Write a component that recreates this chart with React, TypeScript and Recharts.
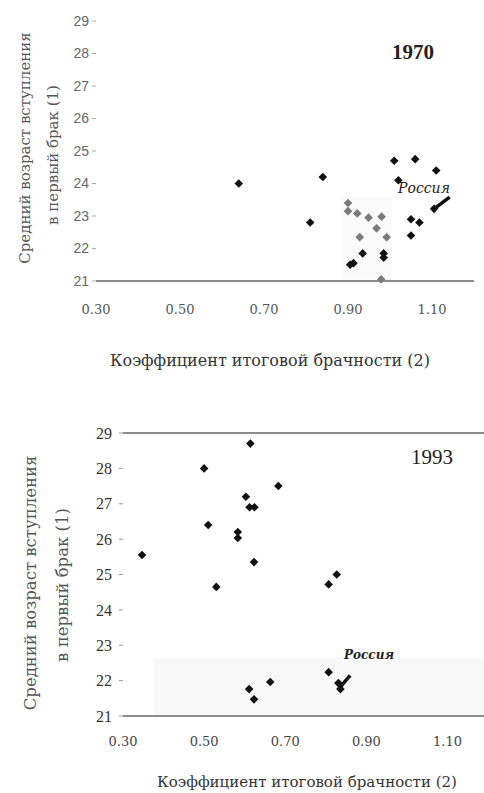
import React from "react";
import {
  ScatterChart,
  Scatter,
  XAxis,
  YAxis,
  ReferenceLine,
  ReferenceArea,
} from "recharts";

type Pt = { x: number; y: number };

const xTicks = [0.3, 0.5, 0.7, 0.9, 1.1];
const yTicks = [21, 22, 23, 24, 25, 26, 27, 28, 29];

// 1970, dark markers
const dark1970: Pt[] = [
  { x: 0.64, y: 24.0 },
  { x: 0.84, y: 24.2 },
  { x: 0.81, y: 22.8 },
  { x: 1.01, y: 24.7 },
  { x: 1.06, y: 24.75 },
  { x: 1.11, y: 24.4 },
  { x: 1.02, y: 24.1 },
  { x: 1.05, y: 22.9 },
  { x: 1.07, y: 22.8 },
  { x: 1.05, y: 22.4 },
  { x: 0.935, y: 21.85 },
  { x: 0.913, y: 21.55 },
  { x: 0.905, y: 21.5 },
  { x: 0.985, y: 21.85 },
  { x: 0.985, y: 21.72 },
  { x: 1.105, y: 23.22 },
];

// 1970, grey markers
const grey1970: Pt[] = [
  { x: 0.9, y: 23.4 },
  { x: 0.9, y: 23.15 },
  { x: 0.922, y: 23.08 },
  { x: 0.949, y: 22.95 },
  { x: 0.98, y: 22.98 },
  { x: 0.968, y: 22.62 },
  { x: 0.928, y: 22.35 },
  { x: 0.992, y: 22.35 },
  { x: 0.979, y: 21.05 },
];

// 1993
const pts1993: Pt[] = [
  { x: 0.347, y: 25.55 },
  { x: 0.5, y: 28.0 },
  { x: 0.614, y: 28.7 },
  { x: 0.683, y: 27.5 },
  { x: 0.603, y: 27.2 },
  { x: 0.612, y: 26.9 },
  { x: 0.624, y: 26.9 },
  { x: 0.51, y: 26.4 },
  { x: 0.583, y: 26.2 },
  { x: 0.583, y: 26.03 },
  { x: 0.623, y: 25.35 },
  { x: 0.53, y: 24.65 },
  { x: 0.807, y: 24.72 },
  { x: 0.827, y: 25.0 },
  { x: 0.807, y: 22.24 },
  { x: 0.663, y: 21.96 },
  { x: 0.611, y: 21.76 },
  { x: 0.623, y: 21.47 },
  { x: 0.831, y: 21.93 },
  { x: 0.836, y: 21.76 },
];

const Diamond = (props: any) => {
  const { cx, cy, fill } = props;
  const r = 4.3;
  return (
    <path
      d={`M${cx},${cy - r}L${cx + r},${cy}L${cx},${cy + r}L${cx - r},${cy}Z`}
      fill={fill}
    />
  );
};

const fmt = (v: number) => v.toFixed(2);

export default function App() {
  return (
    <div
      style={{
        position: "absolute",
        left: 0,
        top: 0,
        width: 484,
        height: 793,
        background: "#fff",
        overflow: "hidden",
      }}
    >
      <div style={{ position: "absolute", left: 0, top: 0 }}>
        <ScatterChart
          width={484}
          height={400}
          margin={{ top: 21, right: 10, bottom: 0, left: 0 }}
        >
          <XAxis
            type="number"
            dataKey="x"
            domain={[0.3, 1.2]}
            ticks={xTicks}
            tickFormatter={fmt}
            height={119}
            tickSize={0}
            tickMargin={24}
            axisLine={{ stroke: "#8c8c8c", strokeWidth: 2 }}
            tick={{ fontSize: 13, fill: "#555", fontFamily: "DejaVu Serif" }}
          />
          <YAxis
            type="number"
            dataKey="y"
            domain={[21, 29]}
            ticks={yTicks}
            width={96}
            axisLine={false}
            tickSize={4}
            tickMargin={3}
            tickLine={{ stroke: "#aaa" }}
            tick={{ fontSize: 14, fill: "#666", fontFamily: "Liberation Sans" }}
          />
          <ReferenceArea
            x1={0.885}
            x2={1.005}
            y1={21.05}
            y2={23.6}
            fill="#fafafa"
            fillOpacity={1}
            stroke="none"
          />
          <Scatter
            data={grey1970}
            fill="#7a7a7a"
            shape={Diamond}
            isAnimationActive={false}
          />
          <Scatter
            data={dark1970}
            fill="#111"
            shape={Diamond}
            isAnimationActive={false}
          />
          <ReferenceLine
            segment={[
              { x: 1.108, y: 23.25 },
              { x: 1.142, y: 23.58 },
            ]}
            stroke="#111"
            strokeWidth={3.5}
          />
        </ScatterChart>
      </div>

      <div style={{ position: "absolute", left: 0, top: 400 }}>
        <ScatterChart
          width={484}
          height={393}
          margin={{ top: 33, right: 0, bottom: 0, left: 0 }}
        >
          <XAxis
            type="number"
            dataKey="x"
            domain={[0.3, 1.19]}
            ticks={xTicks}
            tickFormatter={fmt}
            height={77}
            tickSize={0}
            tickMargin={21}
            axisLine={{ stroke: "#8c8c8c", strokeWidth: 2 }}
            tick={{ fontSize: 13, fill: "#444", fontFamily: "DejaVu Serif" }}
          />
          <YAxis
            type="number"
            dataKey="y"
            domain={[21, 29]}
            ticks={yTicks}
            width={123}
            axisLine={false}
            tickSize={4}
            tickMargin={7}
            tickLine={{ stroke: "#999" }}
            tick={{ fontSize: 16, fill: "#333", fontFamily: "Liberation Serif" }}
          />
          <ReferenceArea
            x1={0.375}
            x2={1.19}
            y1={21.02}
            y2={22.64}
            fill="#f8f8f8"
            fillOpacity={1}
            stroke="none"
          />
          <ReferenceLine y={29} stroke="#8c8c8c" strokeWidth={2} />
          <Scatter
            data={pts1993}
            fill="#111"
            shape={Diamond}
            isAnimationActive={false}
          />
          <ReferenceLine
            segment={[
              { x: 0.836, y: 21.82 },
              { x: 0.86, y: 22.15 },
            ]}
            stroke="#111"
            strokeWidth={3.5}
          />
        </ScatterChart>
      </div>

      <svg
        width={484}
        height={793}
        style={{ position: "absolute", left: 0, top: 0, pointerEvents: "none" }}
      >
        <g fontFamily="DejaVu Serif" fill="#555">
          <text
            x={25}
            y={148}
            fontSize={15}
            textAnchor="middle"
            dominantBaseline="central"
            transform="rotate(-90 25 148)"
          >
            Средний возраст вступления
          </text>
          <text
            x={53}
            y={155}
            fontSize={15}
            textAnchor="middle"
            dominantBaseline="central"
            transform="rotate(-90 53 155)"
          >
            в первый брак (1)
          </text>
          <text x={270} y={360} fontSize={16} textAnchor="middle" dominantBaseline="central" fill="#333">
            Коэффициент итоговой брачности (2)
          </text>

          <text
            x={30}
            y={583}
            fontSize={16.5}
            textAnchor="middle"
            dominantBaseline="central"
            transform="rotate(-90 30 583)"
          >
            Средний возраст вступления
          </text>
          <text
            x={62}
            y={585}
            fontSize={16.5}
            textAnchor="middle"
            dominantBaseline="central"
            transform="rotate(-90 62 585)"
          >
            в первый брак (1)
          </text>
          <text x={307} y={782} fontSize={15} textAnchor="middle" dominantBaseline="central" fill="#333">
            Коэффициент итоговой брачности (2)
          </text>
        </g>

        <text
          x={413}
          y={52}
          fontSize={21}
          fontWeight="bold"
          fontFamily="Liberation Serif"
          textAnchor="middle"
          dominantBaseline="central"
          fill="#222"
        >
          1970
        </text>
        <text
          x={432}
          y={457}
          fontSize={21}
          fontFamily="Liberation Serif"
          textAnchor="middle"
          dominantBaseline="central"
          fill="#222"
        >
          1993
        </text>
        <text
          x={424}
          y={188}
          fontSize={14}
          fontStyle="italic"
          fontFamily="DejaVu Serif"
          textAnchor="middle"
          dominantBaseline="central"
          fill="#222"
        >
          Россия
        </text>
        <text
          x={369}
          y={655}
          fontSize={12}
          fontStyle="italic"
          fontWeight="bold"
          fontFamily="DejaVu Serif"
          textAnchor="middle"
          dominantBaseline="central"
          fill="#222"
        >
          Россия
        </text>
      </svg>
    </div>
  );
}
